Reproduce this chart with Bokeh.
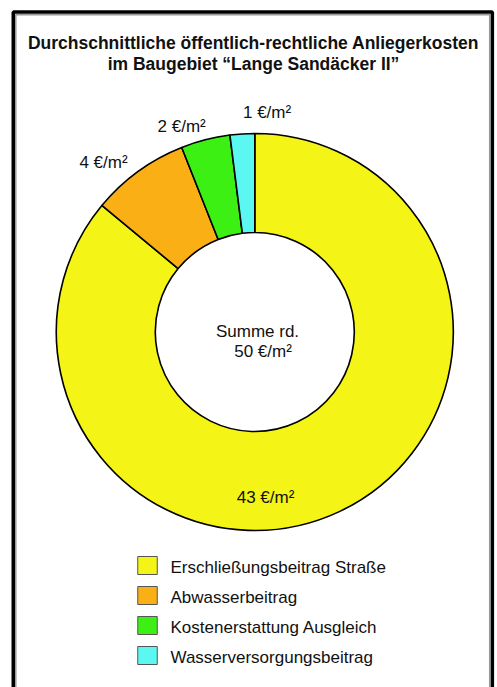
import numpy as np
from bokeh.plotting import figure
from bokeh.models import Range1d
from bokeh.core.properties import value
from bokeh.embed import file_html
from bokeh.resources import INLINE

# ---- data ----
categories = ["Erschließungsbeitrag Straße", "Abwasserbeitrag",
              "Kostenerstattung Ausgleich", "Wasserversorgungsbeitrag"]
values = [43, 4, 2, 1]
value_labels = ["43 €/m²", "4 €/m²", "2 €/m²", "1 €/m²"]
colors = ["#F4F416", "#FAB014", "#3CF014", "#5AF8F0"]
title_lines = ["Durchschnittliche öffentlich-rechtliche Anliegerkosten",
               "im Baugebiet \u201cLange Sandäcker II\u201d"]
center_lines = ["Summe rd.", "50 €/m²"]

# ---- layout (page pixels; data y = H - page_y) ----
W, H = 497, 687
cx, cy = 254.3, H - 331.5
r_out, r_in = 198.5, 99.5
# label placement: (angle offset from slice middle in degrees, radius)
label_pos = [(-21.5, 166), (5.8, 227), (5.2, 218), (-6.8, 220)]

FONT = value("Liberation Sans")

p = figure(width=W, height=H, x_range=Range1d(0, W), y_range=Range1d(0, H),
           min_border=0, toolbar_location=None, output_backend="svg")
p.axis.visible = False
p.grid.visible = False
p.outline_line_color = None
p.background_fill_color = "white"
p.border_fill_color = "white"

# frame
p.line(x=[12.8, 12.8, 491.8, 491.8], y=[-10, H - 11.5, H - 11.5, -10],
       line_color="black", line_width=3.6)
p.line(x=[15.3, 15.3, 489.2, 489.2], y=[-10, H - 14.2, H - 14.2, -10],
       line_color="#9A9A9A", line_width=1.5)

# title
for i, t in enumerate(title_lines):
    p.text(x=[253], y=[H - 42.5 - i * 20.5], text=[t], text_font=FONT,
           text_font_size="17.5px", text_font_style="bold",
           text_align="center", text_baseline="middle", text_color="#111111")

# donut: clockwise from 12 o'clock
total = float(sum(values))
fr = np.cumsum([0] + values) / total
starts = np.pi / 2 - 2 * np.pi * fr[:-1]
ends = np.pi / 2 - 2 * np.pi * fr[1:]
p.annular_wedge(x=cx, y=cy, inner_radius=r_in, outer_radius=r_out,
                start_angle=list(ends), end_angle=list(starts),
                fill_color=colors, line_color="black", line_width=1.6)

# value labels
for i, lab in enumerate(value_labels):
    mid = (starts[i] + ends[i]) / 2
    off, rad = label_pos[i]
    a = mid + np.deg2rad(off)
    p.text(x=[cx + rad * np.cos(a)], y=[cy + rad * np.sin(a)], text=[lab],
           text_font=FONT, text_font_size="17px", text_align="center",
           text_baseline="middle", text_color="#111111")

# center text
center_dx = [2.7, 8.2]
for i, t in enumerate(center_lines):
    p.text(x=[cx + center_dx[i]], y=[cy - i * 19.5 + 0.5], text=[t],
           text_font=FONT, text_font_size="17px", text_align="center",
           text_baseline="middle", text_color="#111111")

# legend
for i, (c, lab) in enumerate(zip(colors, categories)):
    ly = H - (565 + i * 30)
    p.rect(x=[147], y=[ly], width=19.5, height=18, fill_color=c,
           line_color="#555555", line_width=1)
    p.text(x=[170], y=[ly - 2], text=[lab], text_font=FONT,
           text_font_size="17px", text_align="left", text_baseline="middle",
           text_color="#111111")

open("out.html", "w").write(file_html(p, INLINE))
